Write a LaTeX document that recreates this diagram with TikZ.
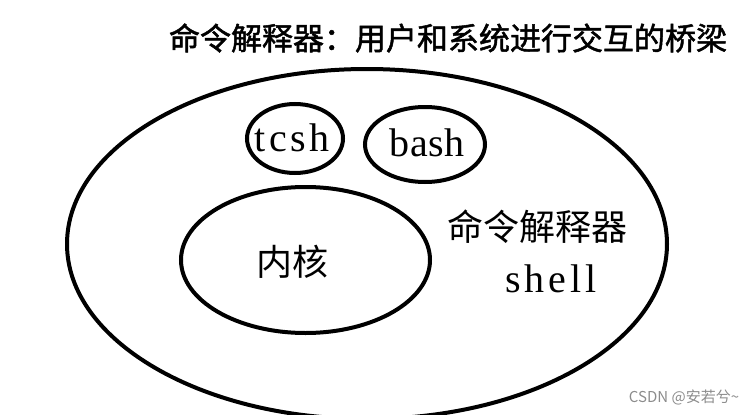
\documentclass[tikz,border=0pt]{standalone}
\usepackage{fontspec}
\setmainfont{Liberation Serif}
\newfontfamily\cjk{Noto Sans CJK SC}
\newfontfamily\cjkhead[FakeBold=1.6]{Noto Sans CJK SC}
\usepackage{tikz}
\usetikzlibrary{shapes.geometric}
\tikzset{
  ring/.style={ellipse,draw=black,line width=4pt,inner sep=0pt},
  zh/.style={font=\cjk\fontsize{36}{36}\selectfont,inner sep=0pt},
  en/.style={font=\fontsize{40}{40}\selectfont\addfontfeatures{LetterSpace=#1},inner sep=0pt},
  en/.default=5,
  mark text/.style={font=\cjk\fontsize{15}{15}\selectfont,text=black!45,inner sep=0pt}
}

\begin{document}
\begin{tikzpicture}[x=1pt,y=-1pt]
\clip (0,0) rectangle (753,415);
\node[font=\cjkhead\fontsize{31}{31}\selectfont,inner sep=0pt] (title) at (448,38) {命令解释器：用户和系统进行交互的桥梁};
\node[ring,minimum width=600pt,minimum height=350pt] (shell) at (367,244) {};
\node[ring,minimum width=96pt,minimum height=69pt] (tcsh) at (295,138.5) {};
\node[ring,minimum width=120pt,minimum height=75pt] (bash) at (425,144.5) {};
\node[ring,minimum width=249pt,minimum height=146pt] (kernel) at (305.5,260) {};
\node[en=8] (tcshtext) at (292,138) {tcsh};
\node[en=1] (bashtext) at (427,143) {bash};
\node[zh] (kerneltext) at (292,262) {内核};
\node[zh] (shelltext) at (537,227) {命令解释器};
\node[en=10,anchor=base] (shellname) at (551,292) {shell};
\node[mark text] (mark) at (684,397) {CSDN @安若兮\textasciitilde};
\end{tikzpicture}
\end{document}
